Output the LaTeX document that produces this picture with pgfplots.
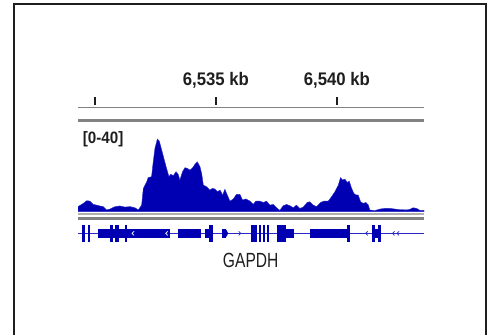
\documentclass[border=0pt]{standalone}
\usepackage{pgfplots}
\pgfplotsset{compat=1.18}
\usepackage{fontspec}
\setmainfont{Liberation Sans}
\newfontfamily\narrowfont[FakeStretch=0.76]{Liberation Sans}
\newfontfamily\narrowbold[FakeStretch=0.92]{Liberation Sans Bold}
\definecolor{covblue}{RGB}{0,0,178}
\definecolor{lineblue}{RGB}{40,40,200}
\definecolor{txt}{RGB}{30,30,30}
\definecolor{rgray}{RGB}{130,130,130}
\definecolor{lgray}{RGB}{175,175,175}
\newcommand{\exon}[3]{\fill[covblue] (axis cs:#1,#3) rectangle (axis cs:#2,-#3);}
\newcommand{\lchev}[2]{\draw[#2, line width=0.7pt] (axis cs:#1,0) ++(1.2pt,2pt) -- ++(-2.2pt,-2pt) -- ++(2.2pt,-2pt);}
\newcommand{\rchev}[2]{\draw[#2, line width=0.7pt] (axis cs:#1,0) ++(-1.2pt,2pt) -- ++(2.2pt,-2pt) -- ++(-2.2pt,-2pt);}
\begin{document}
\begin{tikzpicture}
\useasboundingbox (0,0) rectangle (491pt,335pt);
% frame
\draw[txt, line width=2pt] (14.3pt,0pt) -- (14.3pt,330.8pt) -- (486pt,330.8pt) -- (486pt,0pt);
% ruler lines
\draw[rgray, line width=0.9pt] (78pt,228pt) -- (424pt,228pt);
\draw[rgray, line width=2.8pt] (78pt,214.3pt) -- (424pt,214.3pt);
% coverage baseline lines
\draw[lgray, line width=1.2pt] (78pt,121pt) -- (424pt,121pt);
\draw[rgray, line width=2.4pt] (78pt,116.6pt) -- (424pt,116.6pt);

% ruler axis
\begin{axis}[
  at={(78pt,230pt)}, anchor=south west,
  scale only axis, width=346pt, height=20pt,
  xmin=6529.30, xmax=6543.60, ymin=0, ymax=1,
  axis x line*=bottom, axis y line=none,
  axis line style={draw=none},
  xtick={6530,6535,6540},
  xticklabels={{},{6,535 kb},{6,540 kb}},
  tick align=inside, major tick length=8.3pt,
  xtick style={txt, line width=1.3pt},
  xticklabel style={anchor=base, yshift=19pt, font=\narrowbold\fontsize{18.2}{20}\selectfont, text=txt},
]
\addplot[draw=none] coordinates {(6530,0) (6540,0)};
\end{axis}

% coverage axis
\begin{axis}[
  at={(78pt,123.3pt)}, anchor=south west,
  scale only axis, width=346pt, height=88pt,
  xmin=6529.30, xmax=6543.60, ymin=0, ymax=40,
  hide axis, clip=true,
]
\addplot[fill=covblue, draw=lineblue, line width=0.4pt] coordinates {
(6529.30,0) (6529.30,2.3) (6529.52,3.8) (6529.66,5.0) (6529.79,4.8) (6529.93,3.3) (6530.07,3.0)
(6530.21,2.6) (6530.34,2.3) (6530.48,0.8) (6530.62,1.2) (6530.83,2.3) (6531.03,2.6)
(6531.24,2.1) (6531.45,2.3) (6531.65,1.8) (6531.79,0.8) (6531.93,3.0) (6532.00,10.6)
(6532.14,13.6) (6532.20,15.5) (6532.34,15.9) (6532.41,22.7) (6532.48,28.8) (6532.58,33.0)
(6532.66,32.1) (6532.76,28.0) (6532.85,24.2) (6532.96,19.7) (6533.06,15.9) (6533.13,17.0)
(6533.24,16.4) (6533.35,18.2) (6533.44,17.0) (6533.51,14.4) (6533.62,18.2) (6533.72,20.0)
(6533.82,19.7) (6533.93,18.9) (6534.04,20.0) (6534.13,21.5) (6534.23,22.7) (6534.34,20.5)
(6534.41,17.4) (6534.48,12.1) (6534.61,11.4) (6534.75,9.8) (6534.86,10.6) (6534.96,10.3)
(6535.06,9.1) (6535.17,9.8) (6535.28,7.6) (6535.37,10.2) (6535.47,7.6) (6535.58,4.8)
(6535.72,5.8) (6535.85,7.9) (6535.99,7.9) (6536.10,5.3) (6536.24,5.8) (6536.41,4.8)
(6536.54,3.3) (6536.65,4.8) (6536.82,4.8) (6536.96,4.2) (6537.09,4.8) (6537.23,3.0)
(6537.37,3.3) (6537.51,1.8) (6537.64,0.6) (6537.78,2.7) (6537.92,3.3) (6538.06,2.7)
(6538.20,1.8) (6538.33,3.0) (6538.47,1.5) (6538.61,2.1) (6538.77,4.2) (6538.88,4.5)
(6539.02,3.0) (6539.16,2.3) (6539.33,4.2) (6539.46,4.8) (6539.64,4.8) (6539.78,6.8)
(6539.92,9.1) (6540.06,12.1) (6540.15,15.5) (6540.23,14.4) (6540.33,14.8) (6540.43,13.3)
(6540.51,13.9) (6540.61,10.6) (6540.70,8.3) (6540.79,7.6) (6540.88,7.6) (6540.98,4.5)
(6541.09,3.8) (6541.20,4.2) (6541.30,3.0) (6541.36,0.8) (6541.57,0.5) (6541.78,1.2)
(6541.98,1.5) (6542.19,1.5) (6542.40,1.2) (6542.60,0.9) (6542.74,0.9) (6542.88,0.8)
(6543.02,1.1) (6543.15,1.8) (6543.29,1.5) (6543.43,0.6) (6543.60,0.6) (6543.60,0)
} \closedcycle;
\end{axis}
\node[anchor=base west, text=txt, font=\narrowbold\fontsize{16.5}{18}\selectfont, inner sep=0pt] at (82.7pt,191.7pt) {[0-40]};

% gene axis
\begin{axis}[
  at={(78pt,93.3pt)}, anchor=south west,
  scale only axis, width=346pt, height=16.7pt,
  xmin=6529.30, xmax=6543.60, ymin=-1, ymax=1,
  hide axis, clip=false,
]
\addplot[lineblue, line width=1pt] coordinates {(6529.30,0) (6543.60,0)};
\exon{6529.475}{6529.587}{1}
\exon{6529.715}{6529.793}{1}
\exon{6530.136}{6533.099}{0.5}
\exon{6530.620}{6530.744}{1}
\exon{6530.826}{6530.992}{1}
\exon{6531.240}{6531.343}{1}
\exon{6533.442}{6534.368}{0.5}
\exon{6534.545}{6534.723}{0.5}
\exon{6534.723}{6534.864}{1}
\exon{6535.236}{6535.413}{0.5}
\fill[covblue] (axis cs:6535.413,0.5) -- (axis cs:6535.508,0) -- (axis cs:6535.413,-0.5) -- cycle;
\exon{6536.467}{6536.715}{1}
\exon{6536.798}{6536.880}{1}
\exon{6536.963}{6537.045}{1}
\exon{6537.128}{6537.211}{1}
\exon{6537.541}{6537.893}{1}
\exon{6537.893}{6538.223}{0.5}
\exon{6538.884}{6540.455}{0.5}
\exon{6540.434}{6540.537}{1}
\exon{6541.434}{6541.570}{1}
\exon{6541.570}{6541.715}{0.5}
\exon{6541.715}{6541.839}{1}
\lchev{6531.570}{white}
\lchev{6532.963}{white}
\rchev{6535.99}{lineblue}
\lchev{6541.227}{lineblue}
\lchev{6542.335}{lineblue}
\lchev{6542.521}{lineblue}
\end{axis}
\node[anchor=base, text=txt, font=\narrowfont\fontsize{20.5}{22}\selectfont, inner sep=0pt] at (250.7pt,67.7pt) {GAPDH};
\end{tikzpicture}
\end{document}
